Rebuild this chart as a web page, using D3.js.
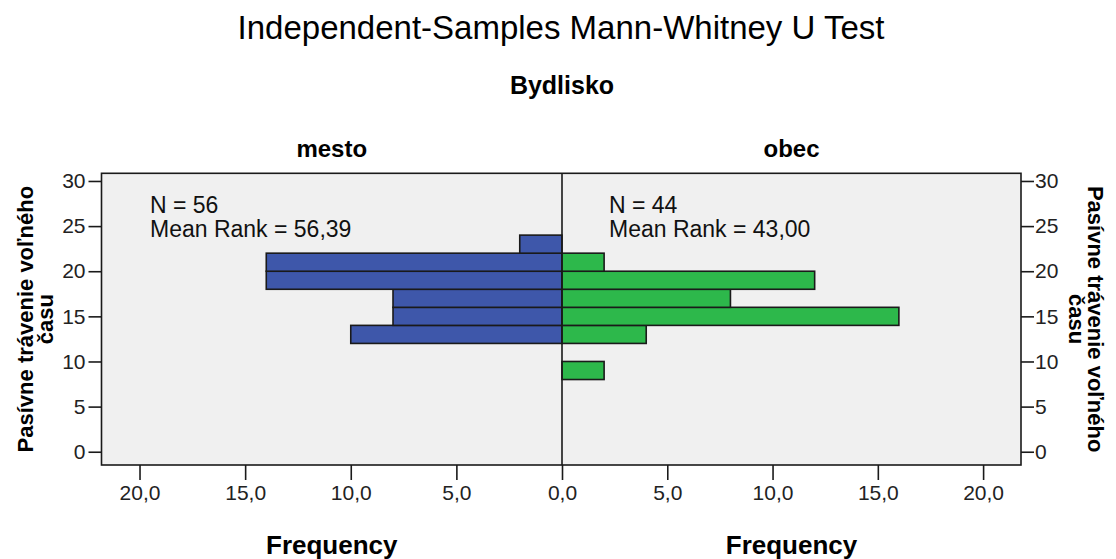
<!DOCTYPE html>
<html>
<head>
<meta charset="utf-8">
<script src="https://cdn.jsdelivr.net/npm/d3@7"></script>
<style>
  html, body { margin: 0; padding: 0; background: #fff; }
  svg { display: block; font-family: "Liberation Sans", Arial, sans-serif; }
</style>
</head>
<body>
<svg id="chart" width="1116" height="559"></svg>
<script>
// ---- data ----
const binLow  = [8, 10, 12, 14, 16, 18, 20, 22];
const binHigh = [10, 12, 14, 16, 18, 20, 22, 24];
const mestoFreq = [0, 0, 10, 8, 8, 14, 14, 2];
const obecFreq  = [2, 0, 4, 16, 8, 12, 2, 0];
const groups = ["mesto", "obec"];
const groupN = [56, 44];
const meanRanks = ["56,39", "43,00"];
const yTicks = [0, 5, 10, 15, 20, 25, 30];
const xTicks = [0, 5, 10, 15, 20];
const titleText = "Independent-Samples Mann-Whitney U Test";
const subTitleText = "Bydlisko";
const yTitleLines = ["Pasívne trávenie voľného", "času"];
const xTitleText = "Frequency";

// ---- layout ----
const svg = d3.select("#chart");
const pTop = 173.3, pBottom = 465, pLeft = 101.5, pMid = 562, pRight = 1021;
const blue = "#3e57aa", green = "#2db84b", bg = "#f0f0f0", ink = "#1a1a1a";

const y = d3.scaleLinear().domain([-1.47, 30.85]).range([pBottom, pTop]);
const xL = d3.scaleLinear().domain([0, 21.8]).range([pMid, pLeft]);
const xR = d3.scaleLinear().domain([0, 21.8]).range([pMid, pRight]);
const fmt = v => d3.format(".1f")(v).replace(".", ",");

// titles
svg.append("text").attr("x", 561).attr("y", 39).attr("text-anchor", "middle")
  .attr("font-size", 33).attr("fill", "#000").text(titleText);
svg.append("text").attr("x", 562).attr("y", 94).attr("text-anchor", "middle")
  .attr("font-size", 25).attr("font-weight", "bold").attr("fill", "#000").text(subTitleText);
svg.append("text").attr("x", (pLeft + pMid) / 2).attr("y", 157).attr("text-anchor", "middle")
  .attr("font-size", 24).attr("font-weight", "bold").text(groups[0]);
svg.append("text").attr("x", (pMid + pRight) / 2).attr("y", 157).attr("text-anchor", "middle")
  .attr("font-size", 24).attr("font-weight", "bold").text(groups[1]);

// plot background
svg.append("rect").attr("x", pLeft).attr("y", pTop).attr("width", pRight - pLeft).attr("height", pBottom - pTop)
  .attr("fill", bg);

// bars
const bins = binLow.map((lo, i) => ({lo, hi: binHigh[i], m: mestoFreq[i], o: obecFreq[i]}));
svg.append("g").selectAll("rect").data(bins.filter(d => d.m > 0)).join("rect")
  .attr("x", d => xL(d.m)).attr("width", d => pMid - xL(d.m))
  .attr("y", d => y(d.hi)).attr("height", d => y(d.lo) - y(d.hi))
  .attr("fill", blue).attr("stroke", ink).attr("stroke-width", 1.6);
svg.append("g").selectAll("rect").data(bins.filter(d => d.o > 0)).join("rect")
  .attr("x", pMid).attr("width", d => xR(d.o) - pMid)
  .attr("y", d => y(d.hi)).attr("height", d => y(d.lo) - y(d.hi))
  .attr("fill", green).attr("stroke", ink).attr("stroke-width", 1.6);

// frame and centre line
svg.append("rect").attr("x", pLeft).attr("y", pTop).attr("width", pRight - pLeft).attr("height", pBottom - pTop)
  .attr("fill", "none").attr("stroke", ink).attr("stroke-width", 1.6);
svg.append("line").attr("x1", pMid).attr("x2", pMid).attr("y1", pTop).attr("y2", pBottom)
  .attr("stroke", ink).attr("stroke-width", 1.6);

// y axes
const yAxL = svg.append("g").attr("transform", `translate(${pLeft},0)`)
  .call(d3.axisLeft(y).tickValues(yTicks).tickSize(13).tickPadding(3));
const yAxR = svg.append("g").attr("transform", `translate(${pRight},0)`)
  .call(d3.axisRight(y).tickValues(yTicks).tickSize(13).tickPadding(1));
// x axes
const xAxL = svg.append("g").attr("transform", `translate(0,${pBottom})`)
  .call(d3.axisBottom(xL).tickValues(xTicks).tickFormat(fmt).tickSize(15).tickPadding(5));
const xAxR = svg.append("g").attr("transform", `translate(0,${pBottom})`)
  .call(d3.axisBottom(xR).tickValues(xTicks.filter(v => v > 0)).tickFormat(fmt).tickSize(15).tickPadding(5));
[yAxL, yAxR, xAxL, xAxR].forEach(g => {
  g.select(".domain").remove();
  g.selectAll(".tick line").attr("stroke", ink).attr("stroke-width", 1.6);
  g.selectAll(".tick text").attr("font-size", 21).attr("fill", "#222")
    .attr("font-family", "'Liberation Sans', Arial, sans-serif");
});

// group stats
[[150, 0], [609, 1]].forEach(([x0, i]) => {
  const t = svg.append("text").attr("x", x0).attr("y", 213).attr("font-size", 23).attr("fill", "#111");
  t.append("tspan").attr("x", x0).text(`N = ${groupN[i]}`);
  t.append("tspan").attr("x", x0).attr("y", 237).text(`Mean Rank = ${meanRanks[i]}`);
});

// x titles
svg.append("text").attr("x", (pLeft + pMid) / 2).attr("y", 554).attr("text-anchor", "middle")
  .attr("font-size", 26).attr("font-weight", "bold").text(xTitleText);
svg.append("text").attr("x", (pMid + pRight) / 2).attr("y", 554).attr("text-anchor", "middle")
  .attr("font-size", 26).attr("font-weight", "bold").text(xTitleText);

// y titles
const cy = (pTop + pBottom) / 2;
const tl = svg.append("g").attr("transform", `translate(33,${cy}) rotate(-90)`);
yTitleLines.forEach((s, i) => tl.append("text").attr("x", 0).attr("y", i * 20)
  .attr("text-anchor", "middle").attr("font-size", 22).attr("font-weight", "bold").text(s));
const tr = svg.append("g").attr("transform", `translate(1088,${cy}) rotate(90)`);
yTitleLines.forEach((s, i) => tr.append("text").attr("x", 0).attr("y", i * 19)
  .attr("text-anchor", "middle").attr("font-size", 22).attr("font-weight", "bold").text(s));
</script>
</body>
</html>
